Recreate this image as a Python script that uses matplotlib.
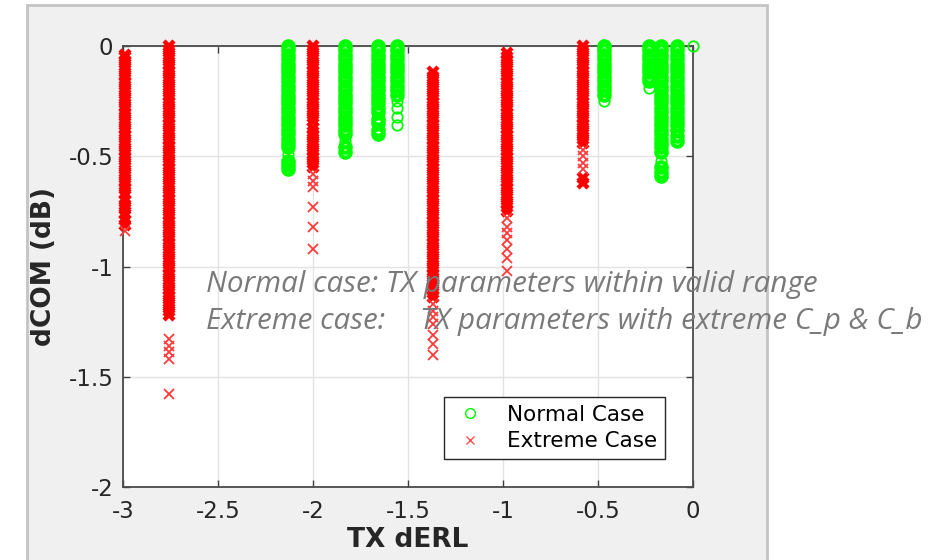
import matplotlib
matplotlib.use("Agg")
import numpy as np
import matplotlib.pyplot as plt
from matplotlib.patches import Rectangle
from matplotlib.lines import Line2D

# TX dERL position of each column
normal_x = [-2.13, -1.83, -1.66, -1.56, -0.47, -0.23, -0.17, -0.085, 0.0]
extreme_x = [-2.99, -2.76, -2.0, -1.37, -0.98, -0.58]

# dCOM values (dB) read per column, normal case
n1 = [0, -0.02, -0.04, -0.06, -0.08, -0.10, -0.12, -0.14, -0.16, -0.18, -0.20, -0.22, -0.24,
      -0.26, -0.28, -0.30, -0.32, -0.34, -0.36, -0.38, -0.40, -0.42, -0.44, -0.46, -0.49,
      -0.52, -0.54, -0.56]
n2 = [0, -0.02, -0.04, -0.06, -0.08, -0.10, -0.12, -0.14, -0.16, -0.18, -0.20, -0.22, -0.24,
      -0.26, -0.28, -0.30, -0.32, -0.34, -0.36, -0.38, -0.40, -0.43, -0.46, -0.48]
n3 = [0, -0.02, -0.04, -0.06, -0.08, -0.10, -0.12, -0.14, -0.16, -0.18, -0.20, -0.22, -0.24,
      -0.26, -0.28, -0.30, -0.33, -0.35, -0.38, -0.40]
n4 = [0, -0.02, -0.04, -0.06, -0.08, -0.10, -0.12, -0.14, -0.16, -0.18, -0.20, -0.22,
      -0.25, -0.28, -0.32, -0.36]
n5 = [0, -0.02, -0.04, -0.06, -0.08, -0.10, -0.12, -0.14, -0.16, -0.18, -0.20, -0.22, -0.25]
n6 = [0, -0.02, -0.04, -0.06, -0.08, -0.10, -0.12, -0.14, -0.16, -0.19]
n7 = [0, -0.02, -0.04, -0.06, -0.08, -0.10, -0.12, -0.14, -0.16, -0.18, -0.20, -0.22, -0.24,
      -0.26, -0.28, -0.30, -0.32, -0.34, -0.36, -0.38, -0.40, -0.42, -0.44, -0.46, -0.48,
      -0.52, -0.55, -0.57, -0.59]
n8 = [0, -0.02, -0.04, -0.06, -0.08, -0.10, -0.12, -0.14, -0.16, -0.18, -0.20, -0.22, -0.24,
      -0.26, -0.28, -0.30, -0.32, -0.34, -0.36, -0.38, -0.41, -0.43]
n9 = [0]

# dCOM values (dB) read per column, extreme case
e1 = [-0.04, -0.05, -0.07, -0.09, -0.11, -0.13, -0.15, -0.17, -0.19, -0.21, -0.23, -0.25,
      -0.27, -0.29, -0.31, -0.33, -0.35, -0.37, -0.39, -0.41, -0.43, -0.45, -0.47, -0.49,
      -0.51, -0.53, -0.55, -0.57, -0.59, -0.61, -0.63, -0.65, -0.67, -0.70, -0.72, -0.74,
      -0.76, -0.79, -0.81, -0.84]
e2 = [0, -0.02, -0.04, -0.06, -0.08, -0.10, -0.12, -0.14, -0.16, -0.18, -0.20, -0.22, -0.24,
      -0.26, -0.28, -0.30, -0.32, -0.34, -0.36, -0.38, -0.40, -0.42, -0.44, -0.46, -0.48,
      -0.50, -0.52, -0.54, -0.56, -0.58, -0.60, -0.62, -0.64, -0.66, -0.68, -0.70, -0.72,
      -0.74, -0.76, -0.78, -0.80, -0.82, -0.84, -0.86, -0.88, -0.90, -0.92, -0.94, -0.96,
      -0.98, -1.00, -1.02, -1.04, -1.06, -1.08, -1.10, -1.12, -1.14, -1.16, -1.18, -1.20,
      -1.22, -1.33, -1.36, -1.39, -1.42, -1.58]
e3 = [0, -0.02, -0.04, -0.06, -0.08, -0.10, -0.12, -0.14, -0.16, -0.18, -0.20, -0.22, -0.24,
      -0.26, -0.28, -0.30, -0.32, -0.34, -0.37, -0.39, -0.41, -0.43, -0.45, -0.47, -0.49,
      -0.51, -0.53, -0.55, -0.58, -0.61, -0.64, -0.73, -0.82, -0.92]
e4 = [-0.12, -0.14, -0.16, -0.18, -0.20, -0.22, -0.24, -0.26, -0.28, -0.30, -0.32, -0.34,
      -0.36, -0.38, -0.40, -0.42, -0.44, -0.46, -0.48, -0.50, -0.52, -0.54, -0.56, -0.58,
      -0.60, -0.62, -0.64, -0.66, -0.68, -0.70, -0.72, -0.74, -0.76, -0.78, -0.80, -0.82,
      -0.84, -0.86, -0.88, -0.90, -0.92, -0.94, -0.96, -0.98, -1.00, -1.02, -1.04, -1.06,
      -1.08, -1.10, -1.12, -1.14, -1.17, -1.20, -1.23, -1.26, -1.31, -1.35, -1.40]
e5 = [-0.03, -0.05, -0.07, -0.09, -0.11, -0.13, -0.15, -0.17, -0.19, -0.21, -0.23, -0.25,
      -0.27, -0.29, -0.31, -0.33, -0.35, -0.37, -0.39, -0.41, -0.43, -0.45, -0.47, -0.49,
      -0.51, -0.53, -0.55, -0.57, -0.59, -0.61, -0.63, -0.65, -0.67, -0.69, -0.71, -0.73,
      -0.75, -0.78, -0.82, -0.85, -0.88, -0.92, -0.96, -1.02]
e6 = [0, -0.02, -0.04, -0.06, -0.08, -0.10, -0.12, -0.14, -0.16, -0.18, -0.20, -0.22, -0.24,
      -0.26, -0.28, -0.30, -0.32, -0.34, -0.36, -0.38, -0.40, -0.42, -0.44, -0.47, -0.50,
      -0.53, -0.56, -0.60, -0.62]

normal_y = [n1, n2, n3, n4, n5, n6, n7, n8, n9]
extreme_y = [e1, e2, e3, e4, e5, e6]

x_ticks = [-3, -2.5, -2, -1.5, -1, -0.5, 0]
y_ticks = [-2, -1.5, -1, -0.5, 0]
GREEN = "#00ff00"
RED = "#ff0000"


def split_dense(ys, gap=0.021):
    # points packed closely overlap into a solid bar, loose ones stay thin
    ys = np.asarray(ys, dtype=float)
    d = np.abs(np.diff(ys))
    near = np.zeros(len(ys), dtype=bool)
    near[:-1] |= d <= gap
    near[1:] |= d <= gap
    return ys[near], ys[~near]


fig = plt.figure(figsize=(9.53, 5.6), dpi=100)
fig.patch.set_facecolor("white")
# MATLAB figure panel behind the axes
fig.patches.append(Rectangle((27 / 953, -0.02), 740 / 953, 0.02 + 555 / 560,
                             transform=fig.transFigure, facecolor="#f0f0f0",
                             edgecolor="#c4c4c4", linewidth=2, zorder=-5))

ax = fig.add_axes([123 / 953, 73 / 560, 570 / 953, 441 / 560])
ax.set_zorder(1)
ax.set_facecolor("white")

for x, ys in zip(extreme_x, extreme_y):
    dense, loose = split_dense(ys)
    ax.plot(np.full(len(dense), x), dense, linestyle="none", marker="x", color=RED,
            markersize=7, markeredgewidth=3.2, clip_on=False, zorder=4)
    ax.plot(np.full(len(loose), x), loose, linestyle="none", marker="x", color="#ff3a3a",
            markersize=7, markeredgewidth=1.3, clip_on=False, zorder=4)
for x, ys in zip(normal_x, normal_y):
    dense, loose = split_dense(ys)
    ax.plot(np.full(len(dense), x), dense, linestyle="none", marker="o", markerfacecolor="none",
            markeredgecolor=GREEN, markersize=7.5, markeredgewidth=3.0, clip_on=False, zorder=5)
    ax.plot(np.full(len(loose), x), loose, linestyle="none", marker="o", markerfacecolor="none",
            markeredgecolor=GREEN, markersize=7.5, markeredgewidth=1.3, clip_on=False, zorder=5)

ax.set_xlim(-3, 0)
ax.set_ylim(-2, 0)
ax.set_xticks(x_ticks)
ax.set_yticks(y_ticks)
ax.set_xticklabels([f"{v:g}" for v in x_ticks])
ax.set_yticklabels([f"{v:g}" for v in y_ticks])
ax.grid(True, color="#e3e3e3", linewidth=1)
ax.set_axisbelow(True)
ax.tick_params(direction="in", length=5, width=1, color="#404040", top=True, right=True,
               labelsize=16.5, labelcolor="#262626")
ax.tick_params(axis="x", pad=9)
ax.tick_params(axis="y", pad=7)
for s in ax.spines.values():
    s.set_color("#4a4a4a")
    s.set_linewidth(1.3)

ax.set_xlabel("TX dERL", fontsize=19, fontweight="bold", color="#262626", labelpad=3)
ax.set_ylabel("dCOM (dB)", fontsize=19, fontweight="bold", color="#262626", labelpad=8)

handles = [
    Line2D([], [], linestyle="none", marker="o", markerfacecolor="none",
           markeredgecolor=GREEN, markersize=7, markeredgewidth=1),
    Line2D([], [], linestyle="none", marker="x", color="#ff5050",
           markersize=6, markeredgewidth=1),
]
leg = ax.legend(handles, ["Normal Case", "Extreme Case"], loc="lower right",
                bbox_to_anchor=(0.951, 0.0635), borderaxespad=0, fontsize=15.5,
                fancybox=False, framealpha=1, edgecolor="#262626", handlelength=1.7,
                handletextpad=0.9, labelspacing=0.3, borderpad=0.35)
leg.get_frame().set_linewidth(1)
leg.set_zorder(6)

note_style = dict(fontsize=21.3, style="italic", color="#7a7a7a",
                  family=["Open Sans", "DejaVu Sans"], va="baseline", ha="left", zorder=10)
fig.text(206 / 953, 1 - 292 / 560, "Normal case: TX parameters within valid range", **note_style)
fig.text(206 / 953, 1 - 329 / 560, "Extreme case:", **note_style)
fig.text(420 / 953, 1 - 329 / 560, "TX parameters with extreme C_p & C_b", **note_style)

fig.savefig("out.png", dpi=100)
